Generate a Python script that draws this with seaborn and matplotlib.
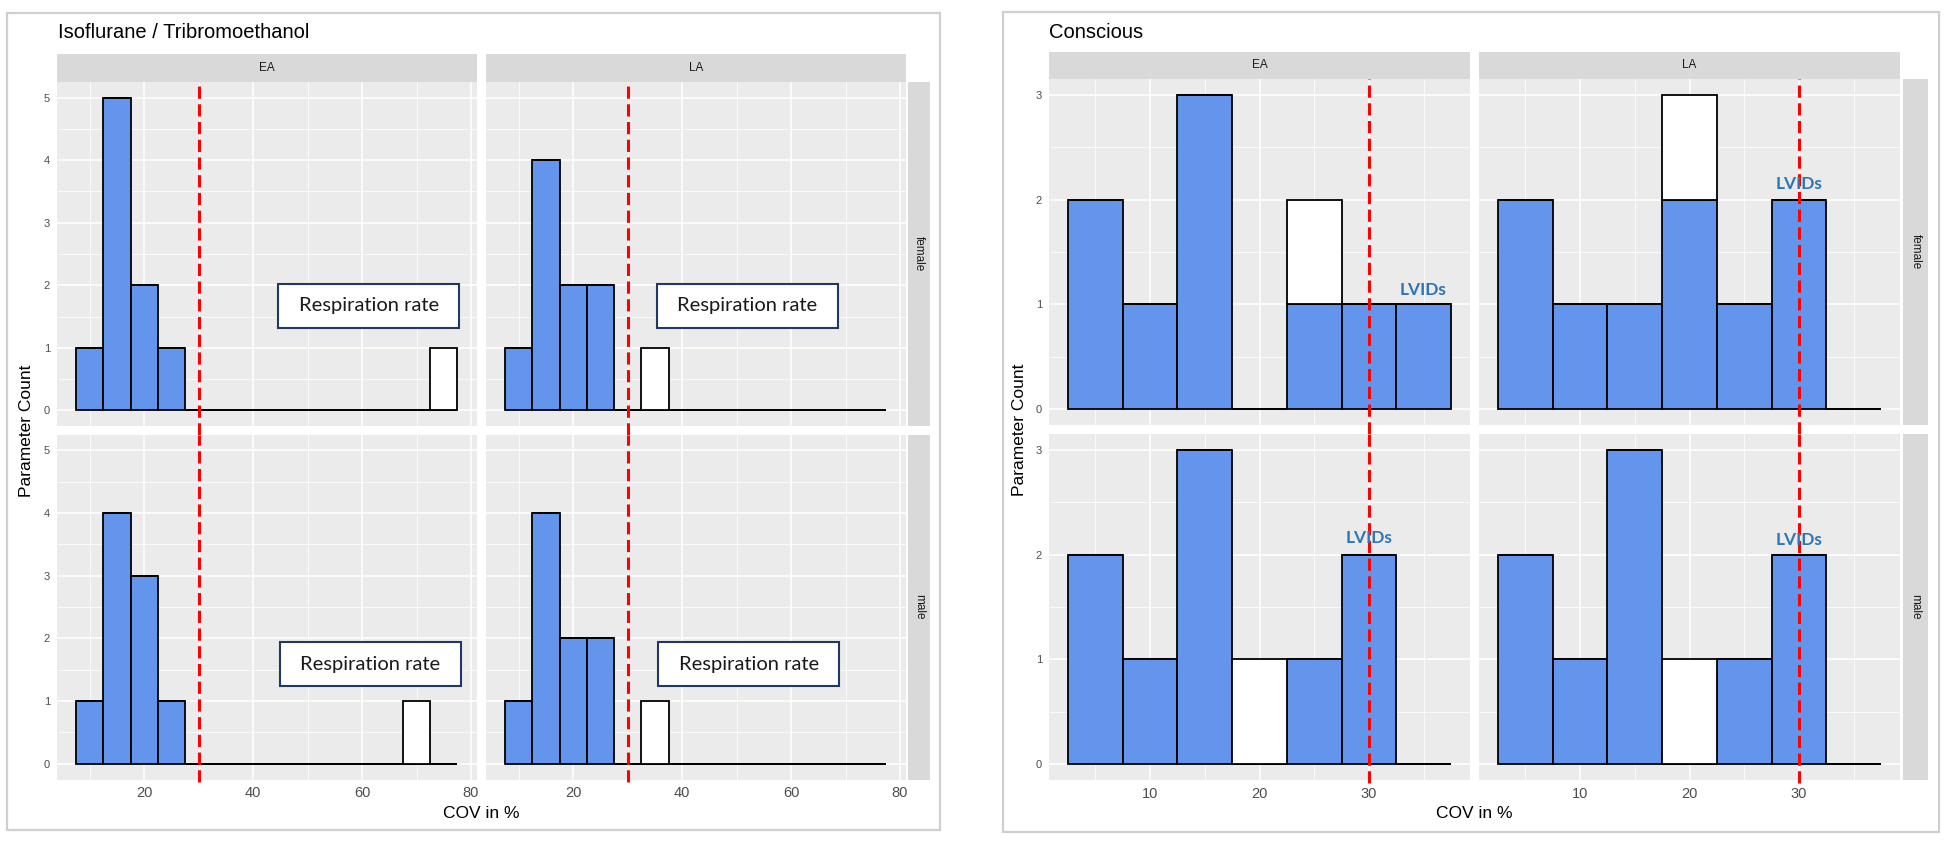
import numpy as np
import pandas as pd
import matplotlib.pyplot as plt
import matplotlib.patches as patches
import seaborn as sns

# counts per 5 %-wide COV bin
# "in" = blue bars, "out" = white bars (stacked on top)
iso_bins = [10, 15, 20, 25, 30, 35, 40, 45, 50, 55, 60, 65, 70, 75]
iso_ea_female_in = [1, 5, 2, 1, 0, 0, 0, 0, 0, 0, 0, 0, 0, 0]
iso_ea_female_out = [0, 0, 0, 0, 0, 0, 0, 0, 0, 0, 0, 0, 0, 1]
iso_la_female_in = [1, 4, 2, 2, 0, 0, 0, 0, 0, 0, 0, 0, 0, 0]
iso_la_female_out = [0, 0, 0, 0, 0, 1, 0, 0, 0, 0, 0, 0, 0, 0]
iso_ea_male_in = [1, 4, 3, 1, 0, 0, 0, 0, 0, 0, 0, 0, 0, 0]
iso_ea_male_out = [0, 0, 0, 0, 0, 0, 0, 0, 0, 0, 0, 0, 1, 0]
iso_la_male_in = [1, 4, 2, 2, 0, 0, 0, 0, 0, 0, 0, 0, 0, 0]
iso_la_male_out = [0, 0, 0, 0, 0, 1, 0, 0, 0, 0, 0, 0, 0, 0]

con_bins = [5, 10, 15, 20, 25, 30, 35]
con_ea_female_in = [2, 1, 3, 0, 1, 1, 1]
con_ea_female_out = [0, 0, 0, 0, 1, 0, 0]
con_la_female_in = [2, 1, 1, 2, 1, 2, 0]
con_la_female_out = [0, 0, 0, 1, 0, 0, 0]
con_ea_male_in = [2, 1, 3, 0, 1, 2, 0]
con_ea_male_out = [0, 0, 0, 1, 0, 0, 0]
con_la_male_in = [2, 1, 3, 0, 1, 2, 0]
con_la_male_out = [0, 0, 0, 1, 0, 0, 0]

threshold = 30
columns = ["EA", "LA"]
rows = ["female", "male"]

# annotation anchors (data coords)
resp_label = "Respiration rate"
resp_pos = {("EA", "female"): (61.2, 1.67), ("LA", "female"): (52.0, 1.67),
            ("EA", "male"): (61.5, 1.59), ("LA", "male"): (52.2, 1.59)}
resp_box = (33.3, 0.71)   # width, height of the label frame
lvids_label = "LVIDs"
lvids_pos = {("EA", "female"): (35, 1.14), ("LA", "female"): (30, 2.15),
             ("EA", "male"): (30, 2.16), ("LA", "male"): (30, 2.14)}

iso_counts = {("EA", "female"): (iso_ea_female_in, iso_ea_female_out),
              ("LA", "female"): (iso_la_female_in, iso_la_female_out),
              ("EA", "male"): (iso_ea_male_in, iso_ea_male_out),
              ("LA", "male"): (iso_la_male_in, iso_la_male_out)}
con_counts = {("EA", "female"): (con_ea_female_in, con_ea_female_out),
              ("LA", "female"): (con_la_female_in, con_la_female_out),
              ("EA", "male"): (con_ea_male_in, con_ea_male_out),
              ("LA", "male"): (con_la_male_in, con_la_male_out)}

sns.set_theme(style="darkgrid")
plt.rcParams["font.family"] = ["Liberation Sans", "DejaVu Sans"]

W, H = 1948, 843
fig = plt.figure(figsize=(W / 100, H / 100), dpi=100)
fig.patch.set_facecolor("white")


def px(x0, y0, x1, y1):
    return [x0 / W, 1 - y1 / H, (x1 - x0) / W, (y1 - y0) / H]


def facet_frame(bins, inside, outside):
    return pd.DataFrame({"cov": list(bins) * 2,
                         "count": list(inside) + list(outside),
                         "status": ["in"] * len(bins) + ["out"] * len(bins)})


def strip(rect, label, rotation=0):
    sa = fig.add_axes(px(*rect))
    sa.set_facecolor("#D9D9D9")
    sa.set_xticks([])
    sa.set_yticks([])
    for s in sa.spines.values():
        s.set_visible(False)
    sa.text(0.5, 0.5, label, ha="center", va="center", rotation=rotation,
            fontsize=8.5, color="#1A1A1A", transform=sa.transAxes)


def draw_group(g):
    col_x = g["col_x"]
    row_y = g["row_y"]
    for ci, col in enumerate(columns):
        strip((col_x[ci][0], g["strip_top"][0], col_x[ci][1], g["strip_top"][1]), col)
    for ri, row in enumerate(rows):
        strip((g["strip_right"][0], row_y[ri][0], g["strip_right"][1], row_y[ri][1]),
              row, rotation=-90)
        for ci, col in enumerate(columns):
            ax = fig.add_axes(px(col_x[ci][0], row_y[ri][0], col_x[ci][1], row_y[ri][1]))
            inside, outside = g["counts"][(col, row)]
            df = facet_frame(g["bins"], inside, outside)
            sns.histplot(data=df, x="cov", weights="count", hue="status",
                         hue_order=["out", "in"], multiple="stack",
                         binwidth=5, binrange=g["binrange"],
                         palette={"in": "#6495ED", "out": "white"},
                         edgecolor="black", linewidth=1.3, alpha=1,
                         legend=False, ax=ax)
            ax.set_facecolor("#EBEBEB")
            ax.set_xlim(g["xlim"])
            ax.set_ylim(g["ylim"])
            ax.set_xticks(g["xmajor"])
            ax.set_xticks(g["xminor"], minor=True)
            ax.set_yticks(g["ymajor"])
            ax.set_yticks(g["yminor"], minor=True)
            ax.grid(which="major", color="white", lw=1.1)
            ax.grid(which="minor", color="white", lw=0.55)
            ax.set_axisbelow(True)
            for s in ax.spines.values():
                s.set_visible(False)
            ax.tick_params(which="minor", length=0)
            ax.tick_params(which="major", length=3, width=0.9, color="#333333",
                           labelcolor="#4D4D4D", pad=2)
            ax.tick_params(axis="x", labelsize=10.5)
            ax.tick_params(axis="y", labelsize=8)
            if ri == 0:
                ax.tick_params(axis="x", length=0, labelbottom=False)
            if ci == 1:
                ax.tick_params(axis="y", length=0, labelleft=False)
            ax.set_xlabel("")
            ax.set_ylabel("")
            # dashed threshold, running through the gap between rows
            gap = (row_y[1][0] - row_y[0][1]) / (row_y[0][1] - row_y[0][0])
            lo = -gap if ri == 0 else -0.008
            ax.axvline(threshold, ymin=lo, ymax=1, color="red", lw=2.2,
                       ls=(0, (4, 1.8)), clip_on=False, zorder=4)
            if g["note"] == "resp":
                x, y = resp_pos[(col, row)]
                bw, bh = resp_box
                ax.add_patch(patches.Rectangle((x - bw / 2, y - bh / 2), bw, bh,
                                               fc="white", ec="#1F3864", lw=1.5,
                                               zorder=5))
                ax.text(x, y, resp_label, ha="center", va="center", fontsize=14.5,
                        family=["Lato", "DejaVu Sans"], color="#1A1A1A", zorder=6)
            else:
                x, y = lvids_pos[(col, row)]
                ax.text(x, y, lvids_label, ha="center", va="center", fontsize=12.5,
                        family=["Lato", "DejaVu Sans"], fontweight="bold",
                        color="#2E75B6", zorder=5)
    # frame, title, axis titles
    bx = g["frame"]
    fig.patches.append(patches.Rectangle((bx[0] / W, 1 - bx[3] / H),
                                         (bx[2] - bx[0]) / W, (bx[3] - bx[1]) / H,
                                         transform=fig.transFigure, fill=False,
                                         ec="#CFCFCF", lw=1.6))
    fig.text(g["title_xy"][0] / W, 1 - g["title_xy"][1] / H, g["title"],
             ha="left", va="center", fontsize=14.5, color="black")
    xc = (col_x[0][0] + col_x[1][1]) / 2
    fig.text(xc / W, 1 - 813 / H, "COV in %", ha="center", va="center",
             fontsize=12.5, color="black")
    yc = (row_y[0][0] + row_y[1][1]) / 2
    fig.text(g["ylab_x"] / W, 1 - yc / H, "Parameter Count", ha="center",
             va="center", rotation=90, fontsize=12.5, color="black")


groups = [
    dict(title="Isoflurane / Tribromoethanol", title_xy=(58, 33), frame=(7, 13, 940, 830),
         col_x=[(57, 476.5), (486, 905.5)], row_y=[(82, 426), (434.5, 779.5)],
         strip_top=(54, 82), strip_right=(908, 930), ylab_x=27,
         bins=iso_bins, binrange=(7.5, 77.5), counts=iso_counts,
         xlim=(4, 81), ylim=(-0.25, 5.25), xmajor=[20, 40, 60, 80], xminor=[10, 30, 50, 70],
         ymajor=[0, 1, 2, 3, 4, 5], yminor=[0.5, 1.5, 2.5, 3.5, 4.5], note="resp"),
    dict(title="Conscious", title_xy=(1049, 32), frame=(1003, 12, 1939, 832),
         col_x=[(1049, 1470), (1479, 1900)], row_y=[(79, 425), (434, 780)],
         strip_top=(52, 79), strip_right=(1903, 1928), ylab_x=1020,
         bins=con_bins, binrange=(2.5, 37.5), counts=con_counts,
         xlim=(0.75, 39.25), ylim=(-0.15, 3.15), xmajor=[10, 20, 30], xminor=[5, 15, 25, 35],
         ymajor=[0, 1, 2, 3], yminor=[0.5, 1.5, 2.5], note="lvids"),
]

for g in groups:
    draw_group(g)

fig.savefig("out.png", dpi=100, facecolor="white")
